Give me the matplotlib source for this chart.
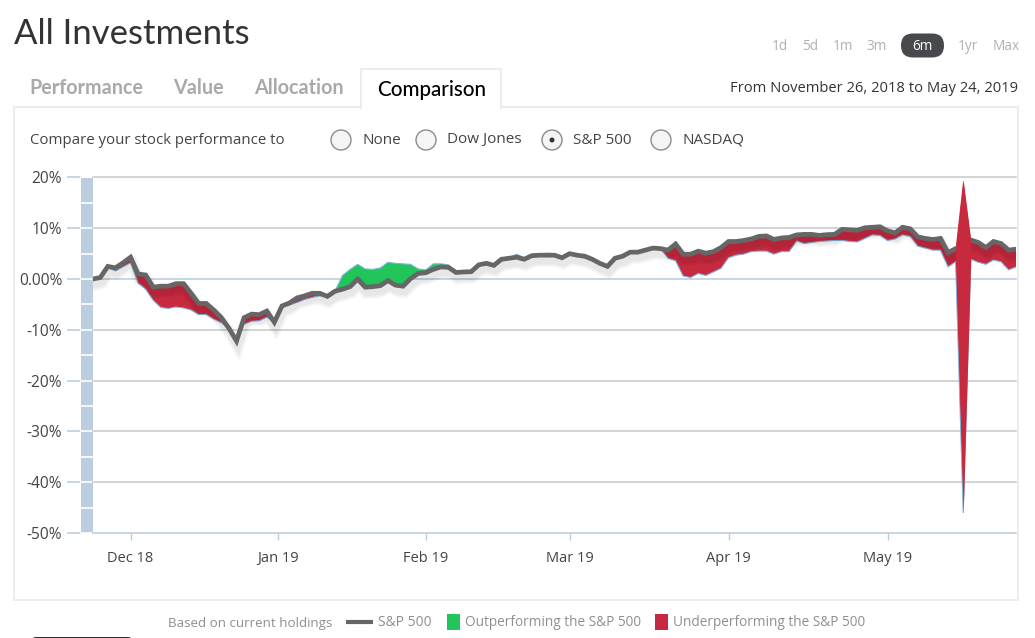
# All Investments comparison chart
import matplotlib
matplotlib.use('Agg')
import matplotlib.pyplot as plt
import matplotlib.patheffects as pe
from matplotlib.patches import Rectangle, Circle, FancyBboxPatch
import numpy as np

W, H = 1035, 638

sp500 = [0.0, 0.3, 2.5, 2.2, 3.2, 4.3, 1.0, 0.8, -1.6, -1.4,
         -1.4, -0.9, -0.9, -2.8, -4.8, -4.8, -6.1, -7.6, -9.7, -12.2,
         -7.6, -6.9, -7.0, -6.3, -8.5, -5.3, -4.7, -3.7, -3.3, -2.8,
         -2.8, -3.4, -2.4, -2.0, -1.5, 0.0, -1.6, -1.5, -1.3, -0.3,
         -1.2, -1.4, 0.1, 1.1, 1.25, 1.9, 2.4, 2.3, 1.3, 1.4,
         1.45, 2.8, 3.1, 2.7, 3.9, 4.1, 4.3, 3.9, 4.6, 4.7,
         4.7, 4.7, 4.2, 5.0, 4.7, 4.5, 3.9, 3.1, 2.5, 4.1,
         4.5, 5.3, 5.3, 5.7, 6.1, 6.0, 5.7, 6.9, 4.9, 4.9,
         5.5, 5.1, 5.4, 6.2, 7.4, 7.4, 7.6, 7.9, 8.4, 8.5,
         7.8, 8.1, 8.2, 8.7, 8.8, 8.8, 8.6, 8.75, 8.8, 9.8,
         9.7, 9.6, 10.1, 10.2, 10.3, 9.5, 9.1, 10.2, 9.9, 8.3,
         8.0, 7.8, 8.0, 5.2, 6.0, 6.2, 7.7, 7.2, 6.2, 7.4,
         7.0, 5.7, 5.9]

portfolio = [0.0, 0.3, 2.3, 1.6, 2.4, 3.2, -0.8, -2.0, -4.2, -5.6,
             -5.8, -5.5, -5.7, -6.1, -7.0, -7.0, -7.9, -8.6, -9.8, -12.2,
             -8.9, -8.3, -8.2, -7.5, -8.5, -5.4, -5.1, -4.6, -4.0, -3.6,
             -3.3, -3.4, -2.4, 0.7, 1.9, 2.9, 2.0, 1.9, 2.2, 3.3,
             3.1, 3.0, 2.9, 2.0, 1.8, 3.0, 3.0, 2.8, 1.3, 1.4,
             1.45, 2.8, 3.1, 2.7, 3.9, 4.1, 4.9, 4.2, 4.6, 4.8,
             5.1, 5.0, 4.2, 5.0, 4.7, 4.5, 3.9, 3.1, 2.5, 4.1,
             4.5, 5.3, 5.3, 5.7, 6.1, 6.0, 4.1, 3.6, 0.6, 0.3,
             1.1, 0.7, 1.4, 2.1, 4.2, 4.7, 4.9, 5.4, 5.5, 5.5,
             4.9, 5.4, 5.4, 7.5, 7.0, 7.2, 7.4, 7.5, 7.6, 7.6,
             7.4, 7.3, 8.0, 8.7, 8.6, 7.6, 7.9, 8.7, 8.4, 6.5,
             6.1, 5.7, 5.7, 2.4, 3.4, -46.0, 3.9, 3.3, 2.9, 3.75,
             3.4, 1.8, 2.4]

spike_index = 115
spike_top = 19.5

y_ticks = [20, 10, 0, -10, -20, -30, -40, -50]
y_labels = ['20%', '10%', '0.00%', '-10%', '-20%', '-30%', '-40%', '-50%']
x_ticks = [5, 24.5, 44, 63, 84, 105]
x_labels = ['Dec 18', 'Jan 19', 'Feb 19', 'Mar 19', 'Apr 19', 'May 19']

range_labels = ['1d', '5d', '1m', '3m', '6m', '1yr', 'Max']
range_x = [780, 810, 843, 877, 922, 968, 1006]
tab_labels = ['Performance', 'Value', 'Allocation']
tab_x = [29, 173, 254]
radio_labels = ['None', 'Dow Jones', 'S&P 500', 'NASDAQ']
radio_x = [341, 426, 552, 661]

RED = '#c72a3e'
GREEN = '#22c55a'
GREY = '#666666'
BAR = '#bccddf'
GRID = '#c9cccf'
BORDER = '#ececec'
TXT = '#444444'

plt.rcParams['font.family'] = ['Open Sans', 'DejaVu Sans']

fig = plt.figure(figsize=(W / 100, H / 100), dpi=100, facecolor='white')

# page furniture, drawn in pixel coordinates
ui = fig.add_axes([0, 0, 1, 1], zorder=0)
ui.set_xlim(0, W)
ui.set_ylim(H, 0)
ui.axis('off')

ui.add_patch(Rectangle((14, 107), 1004, 493, fc='white', ec=BORDER, lw=1.4))
ui.add_patch(Rectangle((361, 69), 140, 39, fc='white', ec=BORDER, lw=1.4, zorder=2))
ui.add_patch(Rectangle((362, 104), 138, 6, fc='white', ec='none', zorder=3))

ui.text(14, 34.5, 'All Investments', fontsize=25, family='Lato', color='#333333', va='center')
for lab, x in zip(tab_labels, tab_x):
    ui.text(x, 88, lab, fontsize=14.2, family='Lato', fontweight='bold', color='#a9a9a9', va='center')
ui.text(377, 90, 'Comparison', fontsize=14.9, family='Lato', fontweight='medium', color='black', va='center', zorder=4)
ui.text(1018, 89, 'From November 26, 2018 to May 24, 2019', fontsize=10.6, color='#333333', va='center', ha='right')

ui.add_patch(FancyBboxPatch((901, 33.5), 43, 24, boxstyle='round,pad=0,rounding_size=12', fc='#47494c', ec='none'))
for lab, x in zip(range_labels, range_x):
    ui.text(x, 46, lab, fontsize=9.8, color='white' if lab == '6m' else '#b0b0b0', ha='center', va='center')

ui.text(30, 140, 'Compare your stock performance to', fontsize=10.85, color=TXT, va='center')
for lab, x in zip(radio_labels, radio_x):
    ui.add_patch(Circle((x, 140), 10, fc='#f5f5f5', ec='#8c8c8c', lw=1))
    ui.text(x + 21, 140, lab, fontsize=11, color=TXT, va='center')
ui.add_patch(Circle((radio_x[2], 140), 2.5, fc='#333333', ec='none'))

# blue strip left of the plot, white gaps every 5%
ui.add_patch(Rectangle((80.5, 178), 12.2, 355, fc=BAR, ec='none'))
for v in np.arange(-50, 21, 5):
    yy = 279 - v * 5.08
    ui.plot([80.5, 92.7], [yy, yy], color='white', lw=1.2, zorder=3)
for v in y_ticks:
    yy = 279 - v * 5.08
    ui.plot([68, 80.5], [yy, yy], color=BAR, lw=1.2)

# legend row
ui.text(168, 623, 'Based on current holdings', fontsize=9.6, color='#8f8f8f', va='center')
ui.plot([346, 373], [622, 622], color=GREY, lw=3, solid_capstyle='butt')
ui.text(378, 623, 'S&P 500', fontsize=9.9, color='#8f8f8f', va='center')
ui.add_patch(Rectangle((447, 614), 13, 16, fc=GREEN, ec='none'))
ui.text(465, 623, 'Outperforming the S&P 500', fontsize=9.8, color='#8f8f8f', va='center')
ui.add_patch(Rectangle((655, 614), 13, 16, fc=RED, ec='none'))
ui.text(673, 623, 'Underperforming the S&P 500', fontsize=9.8, color='#8f8f8f', va='center')
ui.add_patch(FancyBboxPatch((32, 637), 100, 8, boxstyle='round,pad=0,rounding_size=4', fc='#2e2e2e', ec='none'))

# chart itself
ax = fig.add_axes([92.7 / W, 1 - 533 / H, (1016.2 - 92.7) / W, (533 - 177.5) / H], zorder=1)
ax.patch.set_alpha(0)
xs = np.arange(len(sp500))
sp = np.array(sp500)
pf = np.array(portfolio)
band_top = sp.copy()
band_top[spike_index] = spike_top

ax.set_xlim(0, len(sp500) - 1)
ax.set_ylim(-50, 20)
for s in ax.spines.values():
    s.set_visible(False)
ax.set_yticks(y_ticks)
ax.set_yticklabels(y_labels, fontsize=11.2, color=TXT)
ax.tick_params(axis='y', length=0, pad=22)
ax.set_xticks(x_ticks)
ax.set_xticklabels(x_labels, fontsize=10.5, color=TXT)
ax.tick_params(axis='x', length=5, width=1, color=BAR, pad=8)
for v in y_ticks:
    ax.axhline(v, color=BAR if v in (0, -50) else GRID, lw=1.2, zorder=1, clip_on=False)

ax.fill_between(xs, pf, band_top, where=pf <= band_top, interpolate=True, color=RED, lw=0, zorder=2)
ax.fill_between(xs, pf, band_top, where=pf >= band_top, interpolate=True, color=GREEN, lw=0, zorder=2)
ax.plot(xs, pf, color='#7fb2dc', lw=0.8, zorder=2.5)

shadow = [pe.SimpleLineShadow(offset=(1, -4), shadow_color='black', alpha=0.03, linewidth=w) for w in (9, 7, 5)]
ax.plot(xs, sp, color=GREY, lw=3.4, zorder=3, solid_joinstyle='miter',
        path_effects=shadow + [pe.Normal()])

# the spike sits on top of the S&P line
sl = slice(spike_index - 1, spike_index + 2)
ax.fill_between(xs[sl], pf[sl], band_top[sl], color=RED, lw=0, zorder=4)

fig.savefig('out.png', dpi=100)
